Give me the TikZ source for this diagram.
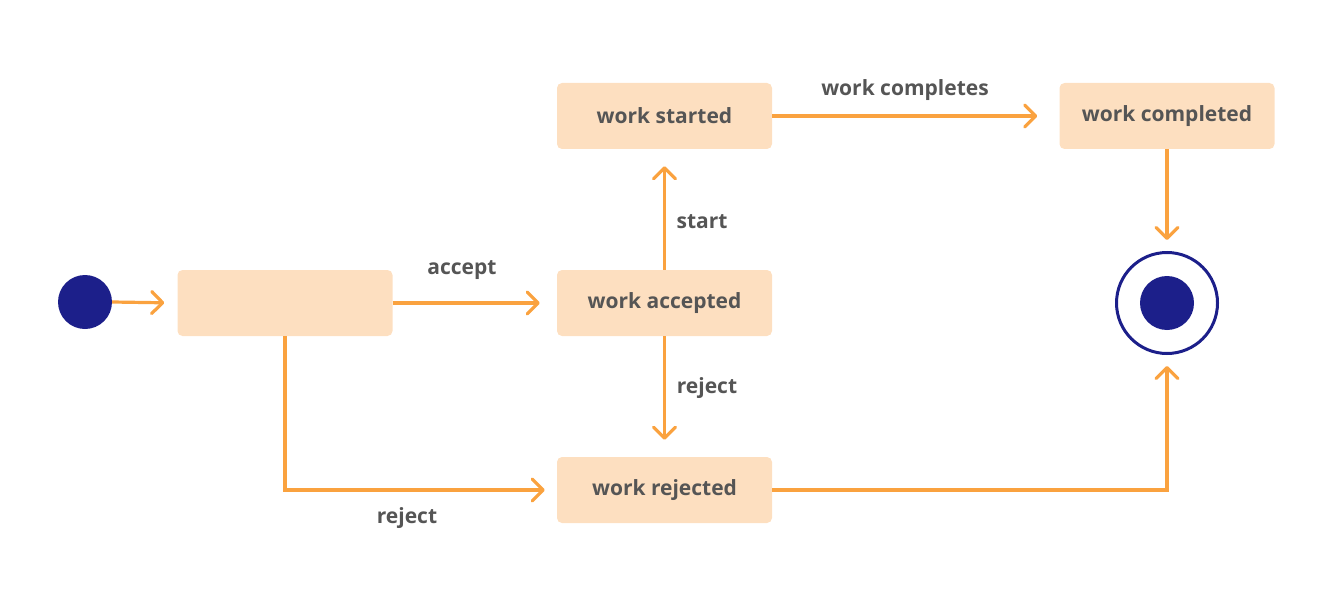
\documentclass[tikz,border=0pt]{standalone}
\usepackage{fontspec}
\setmainfont{Open Sans}
\usetikzlibrary{arrows.meta}
\definecolor{boxfill}{HTML}{FDDFC0}
\definecolor{arr}{HTML}{FAA23F}
\definecolor{navy}{HTML}{1C1F8A}
\definecolor{txt}{HTML}{555555}
\tikzset{
  statebox/.style={draw=none, fill=boxfill, rounded corners=5pt, minimum width=215pt, minimum height=66pt, inner sep=0pt, font=\fontsize{21}{25}\selectfont\bfseries, text=txt},
  conn/.style={draw=arr, line width=3.2pt, -{Straight Barb[length=11pt,width=22pt,line width=3.2pt,round]}},
  lbl/.style={font=\fontsize{21}{25}\selectfont\bfseries, text=txt, inner sep=0pt},
}
\begin{document}
\begin{tikzpicture}[x=1pt,y=-1pt]
\useasboundingbox (0,0) rectangle (1333,607);
\node[circle, fill=navy, minimum size=54pt, inner sep=0pt] (init) at (85,302) {};
\node[statebox] (new) at (285,303) {};
\node[statebox] (acc) at (664.5,303) {work accepted};
\node[statebox] (sta) at (664.5,116) {work started};
\node[statebox] (com) at (1167,116) {work completed};
\node[statebox] (rej) at (664.5,490) {work rejected};
\node[circle, draw=navy, line width=3pt, minimum size=101pt, inner sep=0pt] (fin) at (1167,303) {};
\node[circle, fill=navy, minimum size=54pt, inner sep=0pt] (finin) at (fin.center) {};
\coordinate (c1) at (new.south |- rej.west);
\coordinate (c2) at (fin.south |- rej.east);
\draw[conn, shorten >=13pt] (init.east) -- (new.west);
\draw[conn, shorten >=17pt] (new.east) -- (acc.west);
\draw[conn, shorten >=17pt] (acc.north) -- (sta.south);
\draw[conn, shorten >=17pt] (acc.south) -- (rej.north);
\draw[conn, shorten >=22pt] (sta.east) -- (com.west);
\draw[conn, shorten >=11pt] (com.south) -- (fin.north);
\draw[conn, shorten >=12pt] (new.south) -- (c1) -- (rej.west);
\draw[conn, shorten >=11pt] (rej.east) -- (c2) -- (fin.south);
\node[lbl] (la) at (462,270) {accept};
\node[lbl] (lwc) at (905,90) {work completes};
\node[lbl] (ls) at (702,222) {start};
\node[lbl] (lr1) at (707,388) {reject};
\node[lbl] (lr2) at (407,518) {reject};
\end{tikzpicture}
\end{document}
